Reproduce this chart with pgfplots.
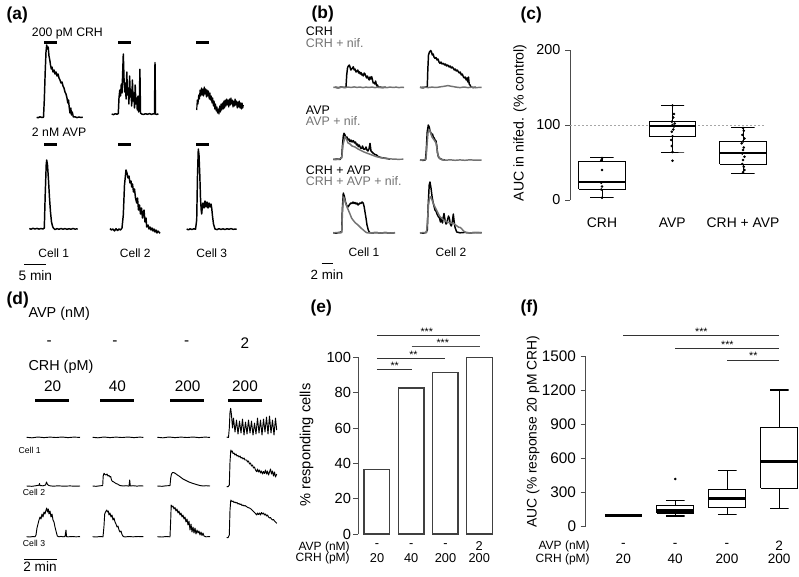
\documentclass[border=0pt]{standalone}
\usepackage{fontspec}
\setmainfont{Liberation Sans}
\usepackage{pgfplots}
\pgfplotsset{compat=1.18}
\pgfkeys{/pgf/number format/.cd, assume math mode=true, 1000 sep={}}
\newcommand\fs[1]{\fontsize{#1}{#1}\selectfont}
\definecolor{nif}{gray}{0.45}
\begin{document}
\begin{tikzpicture}
\useasboundingbox (0,0) rectangle (599.25pt,432pt);
%================ canvas (pixel coordinates) =================
\begin{axis}[at={(0pt,0pt)}, anchor=south west, scale only axis,
  width=599.25pt, height=432pt, xmin=0, xmax=799, ymin=0, ymax=576,
  y dir=reverse, hide axis, clip=false,
  tr/.style={black, line width=1.1pt, line join=round},
  trg/.style={nif, line width=1.1pt, line join=round},
  trd/.style={black, line width=0.7pt, line join=round},
  stim/.style={black, line width=2.4pt},
  sbar/.style={black, line width=0.7pt}]
% ---------- panel labels
\node[anchor=west, font=\fs{13}\bfseries] at (axis cs:2,15) {(a)};
\node[anchor=west, font=\fs{13}\bfseries] at (axis cs:307,14) {(b)};
\node[anchor=west, font=\fs{13}\bfseries] at (axis cs:516,15) {(c)};
\node[anchor=west, font=\fs{13}\bfseries] at (axis cs:2,300) {(d)};
\node[anchor=west, font=\fs{13}\bfseries] at (axis cs:306,308) {(e)};
\node[anchor=west, font=\fs{13}\bfseries] at (axis cs:516,308) {(f)};
% ================= (a) ======================
\node[anchor=west, inner sep=0, font=\fs{9.2}] at (axis cs:31.7,33.3) {200 pM CRH};
\node[anchor=west, inner sep=0, font=\fs{9.2}] at (axis cs:31.7,132.7) {2 nM AVP};
\addplot[stim] coordinates {(44,42.3) (56.7,42.3)};
\addplot[stim] coordinates {(118.3,42.3) (131,42.3)};
\addplot[stim] coordinates {(196,42.3) (208.7,42.3)};
\addplot[stim] coordinates {(44,144.3) (56.7,144.3)};
\addplot[stim] coordinates {(118.3,144.3) (131,144.3)};
\addplot[stim] coordinates {(196,144.3) (208.7,144.3)};
\addplot[tr] coordinates {(36.7,117.3)(38,117.8)(40,116.8)(42,117.5)(43.5,117.2)(44.3,100)(45.2,72)(46,52)(46.7,45)(47.5,49)(48.2,47)(49,56)(49.8,60)(50.5,65)(51.3,69)(52,67)(53,72)(54,70)(55,74)(56,72)(57,76)(58,74)(59,78)(60,80)(61,83)(62,82)(63,86)(64,88)(65,92)(66,94)(67,98)(67.8,103)(68.5,100)(69.3,108)(70,113)(70.8,108)(71.5,115)(72.3,112)(73.3,117)(75,116.8)(77,117.6)(79,117)(81,117.5)(82.7,117.2)};
\addplot[tr] coordinates {(111.7,114)(113.5,114.6)(115.5,113.7)(117,114.3)(118.3,113.5)(119,98)(119.8,90)(120.5,96)(121.3,84)(122,93)(122.6,75)(123.3,54)(124,78)(124.7,92)(125.4,83)(126.1,99)(126.8,72)(127.5,95)(128.2,88)(128.9,104)(129.6,76)(130.3,97)(131,90)(131.7,106)(132.4,80)(133.1,101)(133.8,93)(134.5,108)(135.2,85)(135.9,104)(136.6,98)(137.3,110)(138,96)(138.7,112)(139.4,104)(139.9,69.3)(140.5,113)(141.7,114)(143.5,114.5)(145.5,113.7)(147.5,114.3)(149.5,113.6)(151.5,114.4)(153.5,113.7)(154.5,114)(155,62.7)(155.5,114)(156.8,114.5)(158.3,113.8)};
\addplot[tr, line width=0.9pt] coordinates {(196.7,110)(197.3,100)(198,104)(198.7,95)(199.4,99)(200.1,90)(200.8,96)(201.5,88)(202.2,95)(202.9,89)(203.6,96)(204.3,87)(205,94)(205.7,89)(206.4,97)(207.1,90)(207.8,96)(208.5,91)(209.2,99)(209.9,93)(210.6,100)(211.3,96)(212,103)(212.7,98)(213.4,106)(214.1,101)(214.8,109)(215.5,104)(216.2,111)(216.9,107)(217.6,113)(218.3,109)(219,114)(219.7,106)(220.4,112)(221.1,104)(221.8,110)(222.5,103)(223.2,109)(223.9,101)(224.6,108)(225.3,100)(226,106)(226.7,99)(227.4,105)(228.1,100)(228.8,107)(229.5,99)(230.2,105)(230.9,98)(231.6,104)(232.3,100)(233,107)(233.7,101)(234.4,106)(235.1,99)(235.8,105)(236.5,101)(237.2,108)(237.9,102)(238.6,107)(239.3,101)(240,108)(240.7,103)(241.4,109)(242.1,103)(242.8,108)(243.3,105)};
\addplot[tr] coordinates {(29.3,228.5)(31,229.2)(33,228.3)(35,229)(37,228.4)(39,229.1)(41,228.5)(43,229)(44.3,228)(45.2,195)(46.2,165)(46.7,160)(47.5,165)(48.5,180)(49.5,198)(50.5,212)(51.5,222)(52.5,226)(53.3,228)(55,229.5)(57,228.6)(59,229.3)(61,228.5)(63,229.2)(65,228.6)(67,229.3)(69,228.7)(71,229.2)(73,228.5)(75,229.1)(77.7,228.8)};
\addplot[tr] coordinates {(110,228.5)(111.5,230)(113,229)(114.5,231)(116,228.7)(117.5,230.5)(119,229)(120.5,230)(122,228)(123.3,215)(124.5,185)(126,170)(127,173)(128,178)(129,176)(130,183)(131,181)(131.7,187)(132.5,184)(133.5,192)(134.5,189)(135.5,198)(136.7,203)(137.5,198)(138.5,210)(139.5,205)(140.5,214)(141.5,208)(142.5,218)(143.3,213)(144,210)(145,222)(146,218)(146.7,227)(148,225)(149,229)(150,227)(151,230)(152,228)(153,231)(154,229)(155,232)(156,230)(157,233)(158,231)(160,233.3)};
\addplot[tr] coordinates {(186.7,229)(188.5,229.8)(190,228.8)(192,229.5)(194,228.7)(195.5,229.3)(196.7,220)(197.5,175)(198.3,149)(199,155)(199.8,175)(200.5,198)(201.2,210)(201.7,214)(202.3,207)(203,203)(204,208)(205,201)(206,207)(207,202)(208,208)(209,203)(210,207)(211,204)(211.7,208)(212.5,216)(213.5,224)(215,229)(217,229.6)(219,228.7)(221,229.4)(223,228.8)(225,229.5)(227,228.7)(229,229.3)(231,228.6)(233,229.3)(236.7,229)};
\node[font=\fs{9}] at (axis cs:53.8,253) {Cell 1};
\node[font=\fs{9}] at (axis cs:135.3,253) {Cell 2};
\node[font=\fs{9}] at (axis cs:211.8,253) {Cell 3};
\addplot[sbar] coordinates {(24.3,264) (45.7,264)};
\node[anchor=west, inner sep=0, font=\fs{10.3}] at (axis cs:18.3,276) {5 min};
% ================= (b) ======================
\node[anchor=west, inner sep=0, font=\fs{9.3}] at (axis cs:305.7,31.7) {CRH};
\node[anchor=west, inner sep=0, font=\fs{9.3}, text=nif] at (axis cs:305.7,42.7) {CRH + nif.};
\node[anchor=west, inner sep=0, font=\fs{9.3}] at (axis cs:305.7,110) {AVP};
\node[anchor=west, inner sep=0, font=\fs{9.3}, text=nif] at (axis cs:305.7,120.7) {AVP + nif.};
\node[anchor=west, inner sep=0, font=\fs{9.3}] at (axis cs:305.7,170) {CRH + AVP};
\node[anchor=west, inner sep=0, font=\fs{9.3}, text=nif] at (axis cs:305.7,181) {CRH + AVP + nif.};
% row 1
\addplot[tr] coordinates {(335,87.3)(338,87.8)(341,87)(344,87.5)(346,87.2)(346.7,75)(347.5,68)(348.3,66)(349.3,65)(350,67)(350.8,70)(351.7,69)(352.5,68)(353.3,66.7)(354.2,70)(355,69)(356,72)(357,71)(357.8,70)(358.6,73)(359.3,71.7)(360.2,74)(361,72.5)(361.7,75)(362.5,74)(363.3,76)(364.2,73)(365,74)(365.8,76)(366.6,78)(367.4,76)(368.3,78.3)(369.2,80)(370,77)(370.8,79)(371.7,76.7)(372.5,80)(373.2,83)(374,82.7)(374.8,84)(375.6,81)(376.7,86)(377.5,85)(378.5,87.5)(380,87)(383,87.6)(386,87.2)};
\addplot[trg] coordinates {(333.3,87.5)(336,87)(339,87.8)(342,87.1)(345,87.6)(348,87)(351,87.5)(354,86.9)(357,87.4)(360,87)(363,87.6)(366,87.1)(369,87.5)(372,87)(375,87.6)(378,87.2)(381,87.7)(384,87.1)(387,87.6)(390,87)(393,87.5)(396,87.1)(399,87.6)(402,87.2)(404,87.5)};
\addplot[tr] coordinates {(420,87.3)(423,87.8)(426,87)(427.3,86.5)(427.8,70)(428.5,55)(429.5,52)(430.7,50.5)(431.5,52)(432.3,55)(433.2,54)(434,57)(435,58.3)(436,57.5)(437,60)(438,59)(439,62)(440,63.3)(441,62)(442,64)(443.3,63.3)(444.5,65)(445.5,64)(446.5,66)(447.5,65)(448.3,65.7)(449.2,67)(450.2,66)(451.2,68)(452.3,67)(453.3,68.3)(454.3,70)(455.3,69)(456.3,71)(457.3,70)(458.3,71.7)(459.3,73)(460.3,72)(461.3,75)(462.3,74)(463.3,76.7)(464.3,78)(465.3,77)(466.2,80)(467,78)(467.8,82)(468.5,77)(469.2,84)(470,85)(471,87)(473,87.6)(476,87.2)};
\addplot[trg] coordinates {(420,87.5)(424,87)(428,87.6)(432,87.1)(436,87.5)(440,86.9)(444,86.3)(448,85.6)(452,86.4)(456,87.1)(460,87.6)(464,87)(468,87.6)(472,87.1)(476,87.6)(481.7,87.3)};
% row 2
\addplot[tr] coordinates {(333.3,159.5)(337,159)(340,159.5)(341.7,157)(342.5,145)(343.3,136)(344,133.3)(345,135)(346,138)(347,137)(348,140)(349,139)(350,141.7)(351,140)(352,142)(353.3,140.7)(354.5,143)(355.5,142)(356.5,145)(357.5,144)(358.3,146.7)(359.3,145)(360.5,148)(361.7,148.3)(362.5,146)(363.5,149)(365,149.3)(366,147)(367,150)(368,151)(369,149)(370,143.3)(371,151)(372,152)(373.3,153.3)(375,154.5)(376.5,155)(378.3,156.7)(381,157.5)(384,158)(387,158.5)(390,159.2)};
\addplot[trg] coordinates {(333.3,159.3)(336,159.6)(339,159.1)(341.7,158)(343,145)(345,136.7)(346.5,139)(348,143)(350,144)(352,146)(355,147)(358,149)(361,150.5)(364,152)(368,153.5)(372,155)(376,156.5)(380,157.5)(386,158.5)(392,159)(398,159.3)(403.3,159.2)};
\addplot[tr] coordinates {(420,160)(423,160.4)(425.5,159.8)(426.3,150)(427.2,132)(428.3,125)(429.2,127)(430,131)(431,133)(431.7,135)(432.5,134)(433.3,137)(434.2,138)(435,140)(436,141)(436.8,146)(437.5,153)(438.5,157)(440,158.5)(442,159.5)(445,160)};
\addplot[trg] coordinates {(420,160.3)(424,159.8)(426,159)(427,145)(428,133)(429,129.5)(430,131)(431,134)(432,137)(433,138.5)(434.5,140.5)(436,143)(437,149)(438,155)(439.5,158.5)(442,159.8)(446,160.2)(450,159.8)(455,160.3)(460,159.9)(465,160.3)(470,159.8)(475,160.2)(481.7,160)};
% row 3
\addplot[tr] coordinates {(333.3,232.7)(336,233.2)(339,232.4)(341.7,232)(342.3,210)(343.3,193)(344.3,196)(345.5,202)(346.5,205)(347.5,207)(348.3,206.7)(349.2,205)(350,204)(351,203)(352,203.5)(353,202)(354,203.5)(355,202.5)(356,204)(357,203)(358,205)(359,204)(360,203)(361,203.5)(362,202)(363.3,203.3)(364.2,207)(365,212)(366,218)(367,225)(368.3,230)(369.5,232.5)(372,233)(376,232.5)(380,233)(385,232.6)(390,233)(395,232.7)};
\addplot[trg] coordinates {(333.3,232.9)(337,232.5)(340,233)(341.7,232.5)(342.5,212)(343.5,197)(344.5,199)(345.5,203)(347,207)(348.3,210)(350,214)(351.7,218.3)(353,220)(355,222.5)(358,225)(361,228)(363.3,230)(365,231.5)(366.7,232.7)(370,233)(375,232.5)(380,233)(386,232.6)(390,233)(395,232.7)};
\addplot[tr] coordinates {(420,232.7)(423,233.2)(426,232.5)(427.3,230)(428.2,205)(429.2,185)(430,182)(431,188)(432,196)(433,202)(434,206)(435,210)(436,211)(437,214)(438.3,216.7)(439.5,218)(440.5,222)(441.5,218)(442.5,223)(443.3,217)(444,213.5)(445,220)(446,224)(446.7,223.3)(447.5,220)(448.5,216)(449.3,218)(450.3,224)(451.3,226)(452.3,222)(453.3,214)(454.2,222)(455,227.3)(456.7,232)(460,232.8)(465,232.4)(470,232.9)(475,232.5)(481.7,232.7)};
\addplot[trg] coordinates {(420,233)(424,232.5)(426.5,232.7)(427.5,220)(428.5,205)(429.5,198)(430.7,196.7)(432,200)(433.5,204)(435,207)(437,211)(439,215)(440,216.7)(442,218.5)(444.5,220.5)(446.7,221.7)(449,222.5)(451,223)(453.3,223.3)(455,224.5)(457,226)(459,227.5)(460,227.3)(461.5,228.5)(463.3,230.7)(465,232)(466.7,232.7)(470,233)(475,232.6)(481.7,232.8)};
\node[font=\fs{9}] at (axis cs:364,252) {Cell 1};
\node[font=\fs{9}] at (axis cs:451,252) {Cell 2};
\addplot[sbar] coordinates {(321.7,263.3) (333.3,263.3)};
\node[font=\fs{10}] at (axis cs:327,275) {2 min};
% ================= (d) ======================
\node[anchor=west, inner sep=0, font=\fs{10.8}] at (axis cs:28.3,313.3) {AVP (nM)};
\node[anchor=west, inner sep=0, font=\fs{10.8}] at (axis cs:28.3,366.7) {CRH (pM)};
\node[font=\fs{11.5}] at (axis cs:49.3,343.3) {-};
\node[font=\fs{11.5}] at (axis cs:115,343.3) {-};
\node[font=\fs{11.5}] at (axis cs:186.7,343.3) {-};
\node[font=\fs{11.5}] at (axis cs:245,343.3) {2};
\node[font=\fs{11.5}] at (axis cs:52.7,386.7) {20};
\node[font=\fs{11.5}] at (axis cs:117.3,386.7) {40};
\node[font=\fs{11.5}] at (axis cs:187.7,386.7) {200};
\node[font=\fs{11.5}] at (axis cs:245,386.7) {200};
\addplot[stim, line width=2.6pt] coordinates {(35,400.7) (69,400.7)};
\addplot[stim, line width=2.6pt] coordinates {(100,400.7) (134.3,400.7)};
\addplot[stim, line width=2.6pt] coordinates {(170,400.7) (204,400.7)};
\addplot[stim, line width=2.6pt] coordinates {(228.3,400.7) (261.7,400.7)};
% row 1
\addplot[trd] coordinates {(26.7,437.3)(32,437.8)(38,437)(44,437.6)(50,437.1)(56,437.5)(62,437)(68,437.6)(74,437.1)(80,437.4)};
\addplot[trd] coordinates {(92.7,437.3)(98,437.8)(104,437)(110,437.6)(116,437.1)(122,437.5)(128,437)(134,437.6)(140,437.1)(143.3,437.4)};
\addplot[trd] coordinates {(157.3,437.3)(163,437.8)(169,437)(175,437.6)(181,437.1)(187,437.5)(193,437)(199,437.6)(205,437.1)(210,437.4)};
\addplot[trd] coordinates {(226.7,437)(228.5,437.5)(229.3,428)(230,412)(230.7,408.3)(231.5,415)(232.5,428)(233.5,418)(235,432)(236.5,420)(238,434)(239.5,421)(241,433)(242.5,419)(244,435)(245.5,422)(247,434)(248.5,420)(250,433)(251.5,421)(253,435)(254.5,423)(256,434)(257.5,418)(259,433)(260.5,420)(262,435)(263.5,419)(265,432)(266.5,417)(268,434)(269.5,416)(271,433)(272.5,420)(274,435)(275.5,418)(276.7,430)};
% row 2
\addplot[trd] coordinates {(26.7,486)(32,486.3)(36,485.7)(39,485.2)(39.5,483.5)(40,485.5)(43,485.8)(45.5,485)(46.5,482)(47.5,484.5)(49,485.6)(53,486.2)(58,485.8)(64,486.2)(70,485.9)(75,486.2)(80,486)};
\addplot[trd] coordinates {(92.7,486)(96,486.3)(100,485.8)(102.7,485.5)(103.2,476)(104,473.3)(105,474.5)(106,475)(107,474)(108,476)(109,475.5)(110,477)(110.7,476.5)(111.5,480)(112.5,481.5)(113.3,481.7)(114.5,482.5)(116,483.5)(117.5,484)(119,485)(120,485.5)(123,486)(126,485.7)(129,486.1)(129.7,480)(130.3,486)(133,485.7)(137,486.1)(140,485.8)(143.3,486)};
\addplot[trd] coordinates {(157.3,486)(162,486.3)(166,485.8)(170,485.6)(170.7,478)(171.5,474)(172.5,472.5)(174,472.7)(175.5,473.5)(177,474.7)(179,476)(181,477.5)(183,479)(185,480)(187,481)(189,482)(191,482.7)(193,483.5)(195,484)(197,484.7)(200,485.5)(203,486)(206,485.7)(210,486)};
\addplot[trd] coordinates {(226.7,486.5)(228,486.8)(229.3,485)(230,462)(230.8,450)(231.5,452)(232.3,451)(233,453.5)(234,453)(235,455)(236,454)(237,456)(238,455.5)(239,457)(240,456)(241,458)(242,457.5)(243,459)(244,458)(245,460)(246.7,460)(247.5,462)(248.5,461)(249.5,464)(250.5,463)(251.5,466)(252.5,465)(253.5,468)(254.5,467)(255.5,470)(256.7,471.7)(257.5,469)(258.5,472)(259.5,470)(260.5,473)(261.5,471)(262.5,474)(263.5,471.5)(264.5,473.5)(265.5,470)(266.5,474)(267.5,471)(268.5,475)(269.5,472)(270.5,469)(271.5,474)(272.5,471)(273.5,476)(274.5,472)(275.5,477)(276.7,474)};
% row 3
\addplot[trd] coordinates {(26.7,536.7)(30,537)(33,536.5)(35,536.8)(36,535)(37,528)(38,524)(39,520)(40,517)(41,519)(42,514)(43,517)(44,512)(45,514)(46,510)(46.7,508)(47.5,512)(48.3,509)(49,514)(50,511)(51,517)(52,514)(53,520)(54,522)(55,527)(56,531)(57.3,536)(59,536.8)(61,536.4)(63,536.8)(65,536.5)(66,530)(66.5,536.6)(68,536.8)(72,536.5)(76,536.8)(80,536.6)};
\addplot[trd] coordinates {(92.7,536.7)(96,537)(100,536.5)(103,536.8)(104,526)(104.7,514)(105.5,512)(106.7,510)(107.5,512)(108.3,511)(109,515)(110,513)(111,517)(112,515)(113,520)(114,518)(115,522)(116,524)(117,527)(118,526)(119,530)(120,532)(121,531)(122,534.5)(123.3,536.5)(125,536.9)(129,536.5)(133,536.8)(138,536.5)(143.3,536.7)};
\addplot[trd] coordinates {(157.3,536.7)(162,537)(166,536.5)(170,536.8)(170.7,520)(171.2,505)(172,507)(173,506)(174,509)(175,507.5)(176,511)(177,509)(178,513)(179,511)(180,515)(181,513)(182,517)(183,515)(184,519)(185,517)(186,522)(187,519)(188,525)(189,521)(190,530)(191,524)(192,532)(193,527)(194,533)(195,528)(196,534)(197,530)(198,533)(199,531)(200,535)(201,532)(202,535.5)(203,533)(204,536)(206,536.8)(210,536.5)};
\addplot[trd] coordinates {(226.7,537.5)(228,537.7)(229.3,535)(230,510)(230.8,500)(231.5,501)(232.3,501.5)(233,501)(234,502.5)(235,502)(236,503)(237,502.5)(238,504)(239,503.5)(240,504.5)(241,504)(242,505.5)(243,505)(244,506)(245,505.5)(246.7,506.7)(248,507.5)(249.5,508)(251,509)(252.5,510.5)(254,512)(255.5,513.5)(256.7,515)(257.5,513)(258.5,514.5)(259.5,513)(260.5,515)(261.5,512.5)(262.5,514)(263.5,513)(264.5,515)(265.5,514)(266.5,516)(267.5,515)(268.5,517)(269.5,518)(270.5,517.5)(271.5,519)(272.5,520)(273.5,519.5)(274.5,521)(275.5,522)(276.7,523.3)};
\node[anchor=west, inner sep=0, font=\fs{6.5}] at (axis cs:18.3,450) {Cell 1};
\node[anchor=west, inner sep=0, font=\fs{6.5}] at (axis cs:22.7,492.7) {Cell 2};
\node[anchor=west, inner sep=0, font=\fs{6.5}] at (axis cs:22.7,543.3) {Cell 3};
\addplot[sbar] coordinates {(24,559.3) (56.7,559.3)};
\node[font=\fs{10.2}] at (axis cs:40,566.7) {2 min};
% ================= labels for (c),(e),(f) ===============
\node[rotate=90, font=\fs{10.6}] at (axis cs:520,122.7) {AUC in nifed. (\% control)};
\node[font=\fs{10.4}] at (axis cs:602,222.7) {CRH};
\node[font=\fs{10.4}] at (axis cs:672.3,222.7) {AVP};
\node[font=\fs{10.4}] at (axis cs:743,222.7) {CRH + AVP};
\node[rotate=90, font=\fs{11}] at (axis cs:306.7,445) {\% responding cells};
\node[anchor=east, inner sep=0, font=\fs{9}] at (axis cs:350,547) {AVP (nM)};
\node[anchor=east, inner sep=0, font=\fs{9}] at (axis cs:350,558) {CRH (pM)};
\node[inner sep=0, font=\fs{9.6}] at (axis cs:377,546) {-};
\node[inner sep=0, font=\fs{9.6}] at (axis cs:411.2,546) {-};
\node[inner sep=0, font=\fs{9.6}] at (axis cs:445.5,546) {-};
\node[inner sep=0, font=\fs{9.6}] at (axis cs:479.2,546) {2};
\node[inner sep=0, font=\fs{9.6}] at (axis cs:377,558) {20};
\node[inner sep=0, font=\fs{9.6}] at (axis cs:411.2,558) {40};
\node[inner sep=0, font=\fs{9.6}] at (axis cs:445.5,558) {200};
\node[inner sep=0, font=\fs{9.6}] at (axis cs:479.2,558) {200};
\node[rotate=90, font=\fs{10.4}] at (axis cs:533,431.7) {AUC (\% response 20 pM CRH)};
\node[anchor=east, inner sep=0, font=\fs{9}] at (axis cs:590,546) {AVP (nM)};
\node[anchor=east, inner sep=0, font=\fs{9}] at (axis cs:590,559) {CRH (pM)};
\node[inner sep=0, font=\fs{10.2}] at (axis cs:623.3,545.5) {-};
\node[inner sep=0, font=\fs{10.2}] at (axis cs:675.2,545.5) {-};
\node[inner sep=0, font=\fs{10.2}] at (axis cs:727,545.5) {-};
\node[inner sep=0, font=\fs{10.2}] at (axis cs:779.2,545.5) {2};
\node[inner sep=0, font=\fs{10.2}] at (axis cs:623.3,559) {20};
\node[inner sep=0, font=\fs{10.2}] at (axis cs:675.2,559) {40};
\node[inner sep=0, font=\fs{10.2}] at (axis cs:727,559) {200};
\node[inner sep=0, font=\fs{10.2}] at (axis cs:779.2,559) {200};
\end{axis}
%================ (c) =================
\begin{axis}[at={(427.5pt,282pt)}, anchor=south west, scale only axis,
  width=157.3pt, height=112.5pt, xmin=0.546, xmax=3.52, ymin=0, ymax=200,
  axis x line=none, axis y line=left, axis line style={-, draw=black!70, line width=0.6pt},
  ytick={0,100,200}, tick align=outside, major tick length=3.75pt,
  tick style={black!70, line width=0.6pt},
  yticklabel style={font=\fs{10.8}}, clip=false,
  bx/.style={black, line width=0.7pt, line join=miter},
  md/.style={black, line width=1.4pt}]
\addplot[black!35, line width=0.6pt, dash pattern=on 1.5pt off 1.5pt] coordinates {(0.546,100) (3.31,100)};
% CRH
\addplot[bx] coordinates {(0.67,14.7)(1.33,14.7)(1.33,51.6)(0.67,51.6)(0.67,14.7)};
\addplot[bx] coordinates {(0.835,56.4)(1.165,56.4)(1,56.4)(1,51.6)};
\addplot[bx] coordinates {(0.835,3.1)(1.165,3.1)(1,3.1)(1,14.7)};
\addplot[md] coordinates {(0.67,24.4)(1.33,24.4)};
% AVP
\addplot[bx] coordinates {(1.67,85.3)(2.33,85.3)(2.33,104.4)(1.67,104.4)(1.67,85.3)};
\addplot[bx] coordinates {(1.835,126.7)(2.165,126.7)(2,126.7)(2,104.4)};
\addplot[bx] coordinates {(1.835,64)(2.165,64)(2,64)(2,85.3)};
\addplot[md] coordinates {(1.67,99)(2.33,99)};
% CRH + AVP
\addplot[bx] coordinates {(2.67,48)(3.33,48)(3.33,77.8)(2.67,77.8)(2.67,48)};
\addplot[bx] coordinates {(2.835,96.4)(3.165,96.4)(3,96.4)(3,77.8)};
\addplot[bx] coordinates {(2.835,35.6)(3.165,35.6)(3,35.6)(3,48)};
\addplot[md] coordinates {(2.67,63.1)(3.33,63.1)};
\addplot[only marks, mark=*, mark size=0.75pt, black] coordinates {
(1.0,56)(0.99,53)(1.0,40)(0.99,23)(1.0,18)(0.99,14)(1.0,3)
(2.0,126)(2.02,114.7)(2.01,110)(1.99,104.4)(2.03,102)(2.0,100)(2.02,98)(2.01,94)(1.99,91)(2.0,85)(1.98,80)(1.99,72)(2.0,64)(2.0,52.4)
(3.0,96)(3.01,92.4)(2.99,86.7)(3.02,82)(3.0,78)(2.98,75.6)(3.01,70)(3.0,66.7)(2.99,62)(3.02,57.8)(3.0,53.3)(2.99,48)(3.01,44.4)(3.02,40)(3.0,37)};
\end{axis}
%================ (e) =================
\begin{axis}[at={(268.7pt,31.5pt)}, anchor=south west, scale only axis,
  width=102.5pt, height=132.5pt, xmin=0.452, xmax=4.46, ymin=0, ymax=100,
  axis x line=none, axis y line=left, axis line style={-, draw=black!70, line width=0.6pt},
  ytick={0,20,40,60,80,100}, tick align=outside, major tick length=3.75pt,
  tick style={black!70, line width=0.6pt},
  yticklabel style={font=\fs{11}, inner sep=1.5pt}, clip=false]
\addplot[ybar, bar width=19.3pt, draw=black!75, fill=white, line width=0.9pt] coordinates {(1,36.4) (2,82.6) (3,91.3) (4,100)};
\addplot[black!80, line width=0.6pt] coordinates {(1,93.2) (2.04,93.2)};
\addplot[black!80, line width=0.6pt] coordinates {(1,99.4) (3.01,99.4)};
\addplot[black!70, line width=0.6pt] coordinates {(2.02,106) (4.02,106)};
\addplot[black!80, line width=0.6pt] coordinates {(1,112.6) (4.02,112.6)};
\node[anchor=base, inner sep=0, font=\fs{8}] at (axis cs:1.52,93.2) {**};
\node[anchor=base, inner sep=0, font=\fs{8}] at (axis cs:2.07,99.4) {**};
\node[anchor=base, inner sep=0, font=\fs{8}] at (axis cs:2.93,106) {***};
\node[anchor=base, inner sep=0, font=\fs{8}] at (axis cs:2.46,112.6) {***};
\end{axis}
%================ (f) =================
\begin{axis}[at={(439.3pt,37pt)}, anchor=south west, scale only axis,
  width=160pt, height=128pt, xmin=0.277, xmax=4.379, ymin=0, ymax=1500,
  axis x line=none, axis y line=left, axis line style={-, draw=black!70, line width=0.6pt},
  ytick={0,300,600,900,1200,1500}, tick align=outside, major tick length=3.75pt,
  tick style={black!70, line width=0.6pt},
  yticklabel style={font=\fs{11.5}}, clip=false,
  bx/.style={black, line width=0.8pt, line join=miter},
  md/.style={black, line width=2.2pt}]
% 20 pM (all 100)
\addplot[md] coordinates {(0.645,100)(1.355,100)};
% 40 pM
\addplot[bx] coordinates {(1.645,120)(2.355,120)(2.355,185)(1.645,185)(1.645,120)};
\addplot[bx] coordinates {(1.82,232)(2.18,232)(2,232)(2,185)};
\addplot[bx] coordinates {(1.82,94)(2.18,94)(2,94)(2,120)};
\addplot[md] coordinates {(1.645,144)(2.355,144)};
% 200 pM
\addplot[bx] coordinates {(2.645,167)(3.355,167)(3.355,329)(2.645,329)(2.645,167)};
\addplot[bx] coordinates {(2.82,492)(3.18,492)(3,492)(3,329)};
\addplot[bx] coordinates {(2.82,109)(3.18,109)(3,109)(3,167)};
\addplot[md] coordinates {(2.645,246)(3.355,246)};
% 200 pM + AVP
\addplot[bx] coordinates {(3.645,337)(4.355,337)(4.355,873)(3.645,873)(3.645,337)};
\addplot[bx] coordinates {(3.82,1201)(4.18,1201)(4,1201)(4,873)};
\addplot[bx] coordinates {(3.82,162)(4.18,162)(4,162)(4,337)};
\addplot[md] coordinates {(3.645,575)(4.355,575)};
\addplot[only marks, mark=*, mark size=0.75pt, black] coordinates {(2,419)};
\addplot[black!80, line width=0.6pt] coordinates {(1,1678) (4,1678)};
\addplot[black!80, line width=0.6pt] coordinates {(2,1564) (4,1564)};
\addplot[black!80, line width=0.6pt] coordinates {(3,1465) (4,1465)};
\node[anchor=base, inner sep=0, font=\fs{8}] at (axis cs:2.5,1678) {***};
\node[anchor=base, inner sep=0, font=\fs{8}] at (axis cs:3,1564) {***};
\node[anchor=base, inner sep=0, font=\fs{8}] at (axis cs:3.5,1465) {**};
\end{axis}
\end{tikzpicture}
\end{document}
